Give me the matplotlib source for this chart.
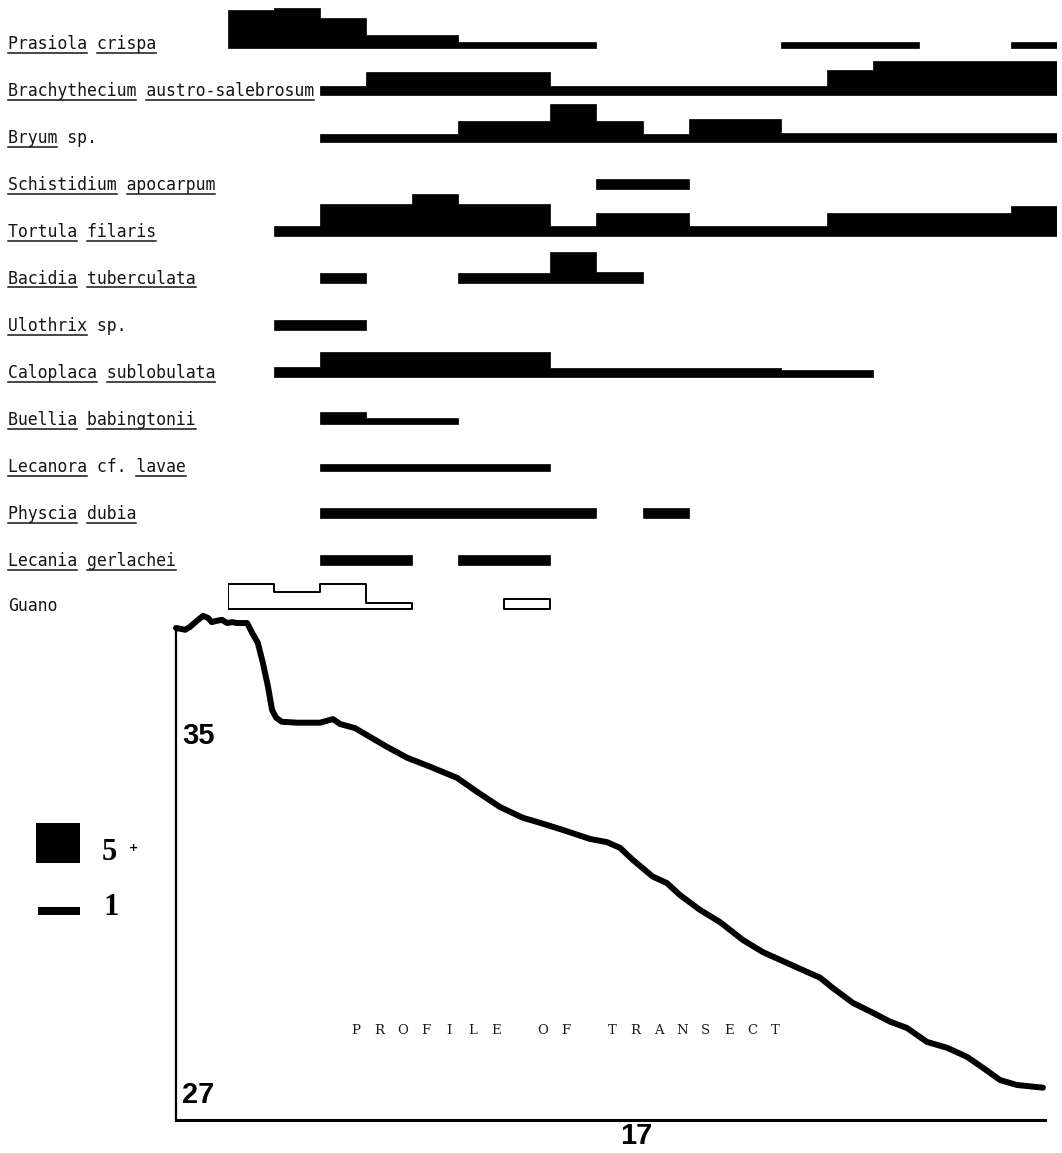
import numpy as np
import matplotlib
matplotlib.use("Agg")
import matplotlib.pyplot as plt
from matplotlib.patches import Polygon, Rectangle
from matplotlib.lines import Line2D

# ---------------- data ----------------
quadrats = np.arange(18)

species_labels = [
    "Prasiola crispa",
    "Brachythecium austro-salebrosum",
    "Bryum sp.",
    "Schistidium apocarpum",
    "Tortula filaris",
    "Bacidia tuberculata",
    "Ulothrix sp.",
    "Caloplaca sublobulata",
    "Buellia babingtonii",
    "Lecanora cf. lavae",
    "Physcia dubia",
    "Lecania gerlachei",
]
underline_words = [
    ["Prasiola", "crispa"],
    ["Brachythecium", "austro-salebrosum"],
    ["Bryum"],
    ["Schistidium", "apocarpum"],
    ["Tortula", "filaris"],
    ["Bacidia", "tuberculata"],
    ["Ulothrix"],
    ["Caloplaca", "sublobulata"],
    ["Buellia", "babingtonii"],
    ["Lecanora", "lavae"],
    ["Physcia", "dubia"],
    ["Lecania", "gerlachei"],
]

# abundance per quadrat (estimated)
prasiola      = [4.7, 5.0, 3.75, 1.6, 1.6, 0.75, 0.75, 0.75, 0, 0, 0, 0, 0.75, 0.75, 0.75, 0, 0, 0.75]
brachythecium = [0, 0, 1.1, 2.9, 2.9, 2.9, 2.9, 1.1, 1.1, 1.1, 1.1, 1.1, 1.1, 3.1, 4.25, 4.25, 4.25, 4.25]
bryum         = [0, 0, 1.0, 1.0, 1.0, 2.6, 2.6, 4.75, 2.6, 1.0, 2.9, 2.9, 1.1, 1.1, 1.1, 1.1, 1.1, 1.1]
schistidium   = [0, 0, 0, 0, 0, 0, 0, 0, 1.25, 1.25, 0, 0, 0, 0, 0, 0, 0, 0]
tortula       = [0, 1.25, 4.0, 4.0, 5.25, 4.0, 4.0, 1.25, 2.9, 2.9, 1.25, 1.25, 1.25, 2.9, 2.9, 2.9, 2.9, 3.75]
bacidia       = [0, 0, 1.25, 0, 0, 1.25, 1.25, 3.9, 1.4, 0, 0, 0, 0, 0, 0, 0, 0, 0]
ulothrix      = [0, 1.25, 1.25, 0, 0, 0, 0, 0, 0, 0, 0, 0, 0, 0, 0, 0, 0, 0]
caloplaca     = [0, 1.25, 3.1, 3.1, 3.1, 3.1, 3.1, 1.1, 1.1, 1.1, 1.1, 1.1, 0.9, 0.9, 0, 0, 0, 0]
buellia       = [0, 0, 1.5, 0.75, 0.75, 0, 0, 0, 0, 0, 0, 0, 0, 0, 0, 0, 0, 0]
lecanora      = [0, 0, 0.9, 0.9, 0.9, 0.9, 0.9, 0, 0, 0, 0, 0, 0, 0, 0, 0, 0, 0]
physcia       = [0, 0, 1.25, 1.25, 1.25, 1.25, 1.25, 1.25, 0, 1.25, 0, 0, 0, 0, 0, 0, 0, 0]
lecania       = [0, 0, 1.25, 1.25, 0, 1.25, 1.25, 0, 0, 0, 0, 0, 0, 0, 0, 0, 0, 0]
guano         = [3.1, 2.1, 3.1, 0.7, 0, 0, 1.25, 0, 0, 0, 0, 0, 0, 0, 0, 0, 0, 0]

species_values = [prasiola, brachythecium, bryum, schistidium, tortula, bacidia,
                  ulothrix, caloplaca, buellia, lecanora, physcia, lecania]

# profile of transect: distance (m) and altitude (m)
profile_dist = [0.00, 0.18, 0.27, 0.41, 0.53, 0.63, 0.70, 0.80, 0.90, 1.00, 1.10, 1.19,
                1.39, 1.49, 1.60, 1.70, 1.80, 1.88, 1.96, 2.07, 2.37, 2.82, 3.07, 3.21,
                3.50, 3.80, 4.13, 4.52, 4.97, 5.50, 5.89, 6.34, 6.79, 7.12, 7.57, 8.10,
                8.43, 8.69, 8.94, 9.33, 9.60, 9.86, 10.25, 10.64, 11.09, 11.48, 11.95,
                12.34, 12.60, 12.85, 13.24, 13.63, 13.97, 14.30, 14.69, 15.08, 15.47,
                15.79, 16.12, 16.45, 16.96]
profile_alt = [37.40, 37.36, 37.42, 37.56, 37.67, 37.62, 37.53, 37.56, 37.58, 37.51, 37.53, 37.51,
               37.51, 37.29, 37.07, 36.62, 36.09, 35.57, 35.40, 35.31, 35.29, 35.29, 35.37, 35.26,
               35.17, 34.97, 34.75, 34.51, 34.31, 34.06, 33.75, 33.41, 33.17, 33.06, 32.90, 32.70,
               32.63, 32.50, 32.23, 31.86, 31.72, 31.45, 31.12, 30.85, 30.45, 30.18, 29.94,
               29.74, 29.61, 29.38, 29.05, 28.83, 28.63, 28.49, 28.18, 28.05, 27.85,
               27.60, 27.33, 27.22, 27.16]
alt_labels = ["35", "27"]
alt_label_values = [35, 27]
length_label = "17"
profile_title = "P R O F I L E   O F   T R A N S E C T"
legend_values = [5, 1]
legend_labels = ["5", "1"]

# ---------------- figure ----------------
W, H, DPI = 1062, 1153, 100
fig = plt.figure(figsize=(W / DPI, H / DPI), dpi=DPI)
fig.patch.set_facecolor("white")

def fx(px):
    return px / W

def fy(py):
    return 1 - py / H

# ---- kite / abundance diagram ----
KBOT = 625
axk = fig.add_axes([fx(228), fy(KBOT), (1057 - 228) / W, KBOT / H])
axk.set_xlim(0, 18)
axk.set_ylim(KBOT, 0)
axk.axis("off")

UNIT = 8.0      # px per abundance unit
ROW0, ROWSTEP = 48, 47


def step_runs(values, base, ax, filled):
    v = np.asarray(values, float)
    i = 0
    while i < len(v):
        if v[i] > 0:
            j = i
            while j + 1 < len(v) and v[j + 1] > 0:
                j += 1
            verts = [(quadrats[i], base)]
            for k in range(i, j + 1):
                top = base - v[k] * UNIT
                verts.append((quadrats[k], top))
                verts.append((quadrats[k] + 1, top))
            verts.append((quadrats[j] + 1, base))
            if filled:
                ax.add_patch(Polygon(verts, closed=True, facecolor="black",
                                     edgecolor="black", linewidth=0.5))
            else:
                ax.add_patch(Polygon(verts, closed=True, fill=False, edgecolor="black",
                                     linewidth=1.4, joinstyle="round"))
            i = j + 1
        else:
            i += 1


for i, vals in enumerate(species_values):
    step_runs(vals, ROW0 + ROWSTEP * i, axk, True)

g_base = ROW0 + ROWSTEP * len(species_values) - 3
step_runs(guano, g_base, axk, False)

# row labels with underlines
label_font = dict(family="DejaVu Sans Mono", size=11.9, color="#151515")
renderer = fig.canvas.get_renderer()
all_labels = species_labels + ["Guano"]
all_under = underline_words + [[]]
for i, (lab, words) in enumerate(zip(all_labels, all_under)):
    base = ROW0 + ROWSTEP * i + 1
    if lab == "Guano":
        base = g_base + 2
    t = fig.text(fx(8), fy(base), lab, ha="left", va="baseline", **label_font)
    bb = t.get_window_extent(renderer=renderer)
    cw = bb.width / len(lab)
    for w in words:
        s = lab.find(w)
        x0 = bb.x0 + s * cw
        x1 = bb.x0 + (s + len(w)) * cw
        yl = H - (base + 3.5)
        fig.add_artist(Line2D([x0 / W, x1 / W], [yl / H, yl / H], transform=fig.transFigure,
                              color="#151515", linewidth=1.1))

# ---- profile ----
P_LEFT, P_RIGHT, P_TOP, P_BOT = 176, 1045, 610, 1120
axp = fig.add_axes([fx(P_LEFT), fy(P_BOT), (P_RIGHT - P_LEFT) / W, (P_BOT - P_TOP) / H])
axp.set_xlim(0, 17)
ymin = 26.44
axp.set_ylim(ymin, 37.80)
axp.plot(profile_dist, profile_alt, color="black", linewidth=4.3,
         solid_capstyle="round", solid_joinstyle="round", clip_on=False)
axp.spines["top"].set_visible(False)
axp.spines["right"].set_visible(False)
axp.spines["left"].set_bounds(ymin, profile_alt[0])
axp.spines["left"].set_linewidth(1.6)
axp.spines["bottom"].set_linewidth(2.2)
axp.set_xticks([])
axp.set_yticks([])
axp.patch.set_alpha(0)

num_font = dict(family=["Liberation Sans Narrow", "Liberation Sans", "DejaVu Sans"],
                weight="bold", size=21, color="black")
for lab, val in zip(alt_labels, alt_label_values):
    axp.text(0.12, val, lab, ha="left", va="center", **num_font)
axp.text(0.53, -0.032, length_label, transform=axp.transAxes, ha="center", va="center", **num_font)

# title letters on a typewriter grid
adv = 11.65
x0 = 356.0
for k, ch in enumerate(profile_title):
    if ch != " ":
        fig.text(fx(x0 + k * adv), fy(1030), ch, ha="center", va="center",
                 family="DejaVu Serif", size=9.5, color="#1a1a1a")

# ---- legend ----
sq_h = legend_values[0] * UNIT
fig.add_artist(Rectangle((fx(36), fy(863)), 44 / W, sq_h / H, transform=fig.transFigure,
                         facecolor="black", edgecolor="none"))
ln_h = legend_values[1] * UNIT
fig.add_artist(Rectangle((fx(38), fy(915)), 42 / W, ln_h / H, transform=fig.transFigure,
                         facecolor="black", edgecolor="none"))
leg_font = dict(family="Liberation Serif", weight="bold", size=22, color="black")
fig.text(fx(102), fy(860), legend_labels[0], ha="left", va="baseline", **leg_font)
fig.text(fx(133), fy(848), "+", ha="center", va="center", family="DejaVu Sans",
         weight="bold", size=8, color="black")
fig.text(fx(103), fy(915), legend_labels[1], ha="left", va="baseline", **leg_font)

fig.savefig("out.png", dpi=DPI, facecolor="white")
